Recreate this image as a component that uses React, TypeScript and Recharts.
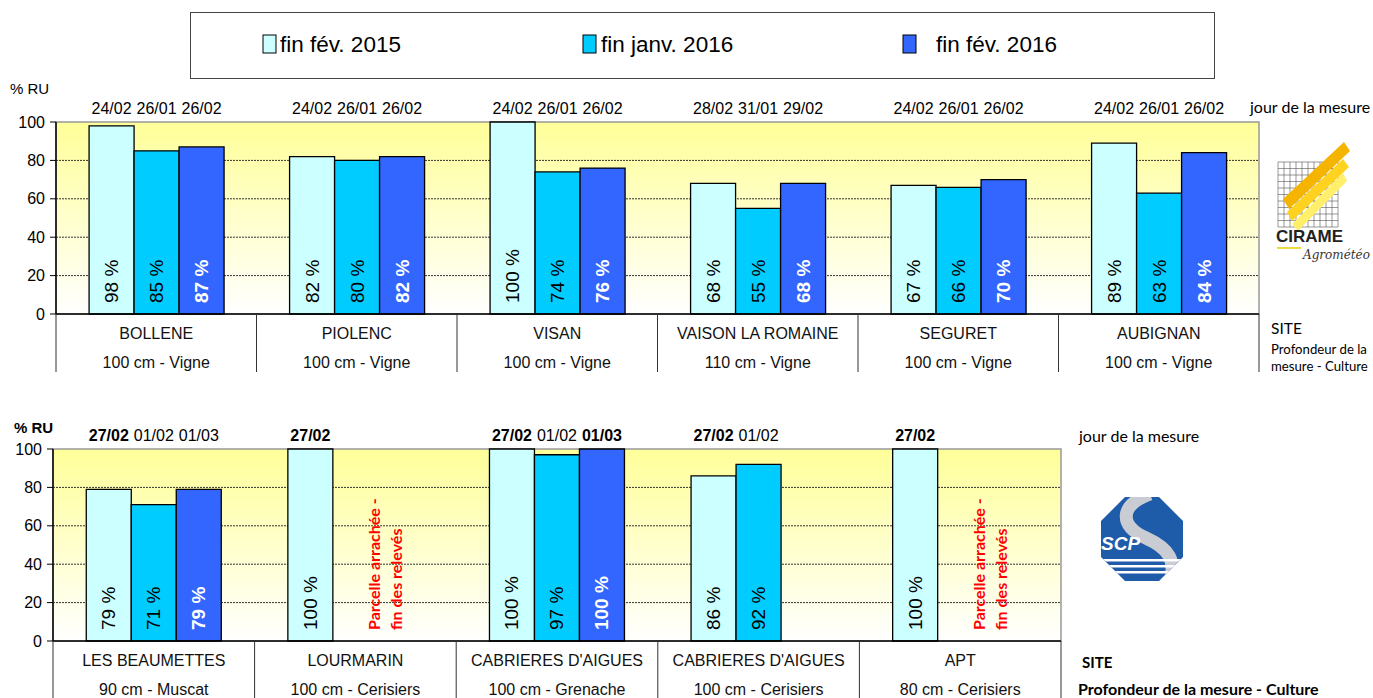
import React from 'react'
import {
  BarChart,
  Bar,
  XAxis,
  YAxis,
  CartesianGrid,
  LabelList,
  ReferenceArea,
} from 'recharts'

const seriesNames = ['fin fév. 2015', 'fin janv. 2016', 'fin fév. 2016']
const seriesColors = ['#CCFFFF', '#00CCFF', '#3366FF']
const yTicks = [0, 20, 40, 60, 80, 100]

// upper panel - CIRAME sites
const sitesTop = ['BOLLENE', 'PIOLENC', 'VISAN', 'VAISON LA ROMAINE', 'SEGURET', 'AUBIGNAN']
const depthsTop = ['100 cm - Vigne', '100 cm - Vigne', '100 cm - Vigne', '110 cm - Vigne', '100 cm - Vigne', '100 cm - Vigne']
const feb2015Top = [98, 82, 100, 68, 67, 89]
const jan2016Top = [85, 80, 74, 55, 66, 63]
const feb2016Top = [87, 82, 76, 68, 70, 84]
const datesFeb2015Top = ['24/02', '24/02', '24/02', '28/02', '24/02', '24/02']
const datesJan2016Top = ['26/01', '26/01', '26/01', '31/01', '26/01', '26/01']
const datesFeb2016Top = ['26/02', '26/02', '26/02', '29/02', '26/02', '26/02']
const boldTop = [false, false, false, false, false, false]

// lower panel - SCP sites
const sitesBottom = ['LES BEAUMETTES', 'LOURMARIN', "CABRIERES D'AIGUES", "CABRIERES D'AIGUES", 'APT']
const depthsBottom = ['90 cm - Muscat', '100 cm - Cerisiers', '100 cm - Grenache', '100 cm - Cerisiers', '80 cm - Cerisiers']
const feb2015Bottom = [79, 100, 100, 86, 100]
const jan2016Bottom = [71, null, 97, 92, null]
const feb2016Bottom = [79, null, 100, null, null]
const datesFeb2015Bottom = ['27/02', '27/02', '27/02', '27/02', '27/02']
const datesJan2016Bottom = ['01/02', null, '01/02', '01/02', null]
const datesFeb2016Bottom = ['01/03', null, '01/03', null, null]
const boldFeb2015Bottom = [true, true, true, true, true]
const boldJan2016Bottom = [false, false, false, false, false]
const boldFeb2016Bottom = [false, false, true, false, false]
const noteBottom = [false, true, false, false, true]
const noteText = ['Parcelle arrachée -', 'fin des relevés']

const ARIAL = '"Liberation Sans", Arial, sans-serif'
const CALIBRI = 'Lato, "Open Sans", sans-serif'
const Y_AXIS_W = 46

type PanelProps = {
  id: string
  sites: string[]
  depths: string[]
  values: (number | null)[][]
  dates: (string | null)[][]
  bold: boolean[][]
  notes?: boolean[]
  top: number
  width: number
  height: number
  margin: { top: number; right: number; bottom: number; left: number }
  axisHeight: number
}

function Panel(props: PanelProps) {
  const { id, sites, depths, values, dates, bold, notes, top, width, height, margin, axisHeight } = props
  const data = sites.map((s, i) => ({
    i,
    v0: values[0][i],
    v1: values[1][i],
    v2: values[2][i],
    d0: dates[0][i],
    d1: dates[1][i],
    d2: dates[2][i],
  }))
  const plotTop = margin.top
  const plotBottom = height - margin.bottom - axisHeight
  const plotLeft = margin.left + Y_AXIS_W
  const plotW = width - plotLeft - margin.right
  const band = plotW / sites.length

  const catIndex = (x: number) => Math.max(0, Math.min(sites.length - 1, Math.floor((x - plotLeft) / band)))

  const valueLabel = (k: number) => (p: any) => {
    if (p.value == null) return null
    const vb = p.viewBox || p
    const cx = Number(vb.x) + Number(vb.width) / 2
    const y = plotBottom - 11
    return (
      <text
        x={cx}
        y={y}
        transform={`rotate(-90 ${cx} ${y})`}
        textAnchor='start'
        dominantBaseline='central'
        fontSize={19}
        fontFamily={ARIAL}
        fontWeight={k === 2 ? 'bold' : 'normal'}
        fill={k === 2 ? '#fff' : '#000'}
      >
        {p.value + ' %'}
      </text>
    )
  }

  const dateLabel = (k: number) => (p: any) => {
    if (p.value == null) return null
    const vb = p.viewBox || p
    const cx = Number(vb.x) + Number(vb.width) / 2
    const isBold = bold[k][catIndex(Number(vb.x) + 1)]
    return (
      <text
        x={cx}
        y={plotTop - 14}
        textAnchor='middle'
        dominantBaseline='central'
        fontSize={16}
        fontFamily={ARIAL}
        fontWeight={isBold ? 'bold' : 'normal'}
        fill='#000'
      >
        {p.value}
      </text>
    )
  }

  const SiteTick = (p: any) => {
    const i = Number(p.payload.value)
    const cx = Number(p.x)
    const left = cx - band / 2
    const lineEnd = plotBottom + 58
    return (
      <g>
        <line x1={left} y1={plotBottom} x2={left} y2={lineEnd} stroke='#333' />
        {i === sites.length - 1 && (
          <line x1={left + band} y1={plotBottom} x2={left + band} y2={lineEnd} stroke='#333' />
        )}
        <text x={cx} y={plotBottom + 19} textAnchor='middle' dominantBaseline='central' fontSize={16} fontFamily={ARIAL} fill='#111'>
          {sites[i]}
        </text>
        <text x={cx} y={plotBottom + 48} textAnchor='middle' dominantBaseline='central' fontSize={16} fontFamily={ARIAL} fill='#111'>
          {depths[i]}
        </text>
        {notes && notes[i] &&
          noteText.map((t, j) => {
            const nx = cx + 18 + j * 22
            const ny = plotBottom - 11
            return (
              <text
                key={j}
                x={nx}
                y={ny}
                transform={`rotate(-90 ${nx} ${ny})`}
                textAnchor='start'
                dominantBaseline='central'
                fontSize={16}
                fontWeight='bold'
                fontFamily={CALIBRI}
                fill='#FF0000'
              >
                {t}
              </text>
            )
          })}
      </g>
    )
  }

  return (
    <div style={{ position: 'absolute', left: 0, top }}>
      <BarChart
        width={width}
        height={height}
        data={data}
        margin={margin}
        barCategoryGap='16.5%'
        barGap={0}
      >
        <defs>
          <linearGradient id={`bg-${id}`} x1='0' y1='0' x2='0' y2='1'>
            <stop offset='0%' stopColor='#FFFF99' />
            <stop offset='100%' stopColor='#FFFFFF' />
          </linearGradient>
        </defs>
        <CartesianGrid
          vertical={false}
          horizontalValues={[20, 40, 60, 80]}
          stroke='#333'
          strokeDasharray='2 1'
          fill={`url(#bg-${id})`}
          fillOpacity={1}
        />
        <ReferenceArea y1={0} y2={100} fill='none' stroke='#999' strokeWidth={1.5} />
        <XAxis
          dataKey='i'
          type='category'
          interval={0}
          tickLine={false}
          axisLine={{ stroke: '#000', strokeWidth: 1.5 }}
          height={axisHeight}
          tick={(p: any) => <SiteTick {...p} />}
        />
        <YAxis
          width={Y_AXIS_W}
          domain={[0, 100]}
          ticks={yTicks}
          interval={0}
          tickSize={6}
          tickMargin={5}
          axisLine={{ stroke: '#000', strokeWidth: 1.5 }}
          tickLine={{ stroke: '#000' }}
          tick={{ fontSize: 16, fontFamily: ARIAL, fill: '#000' }}
        />
        {[0, 1, 2].map((k) => (
          <Bar
            key={k}
            dataKey={`v${k}`}
            name={seriesNames[k]}
            fill={seriesColors[k]}
            stroke='#000'
            strokeWidth={1.3}
            isAnimationActive={false}
          >
            <LabelList dataKey={`v${k}`} content={valueLabel(k)} />
            <LabelList dataKey={`d${k}`} content={dateLabel(k)} />
          </Bar>
        ))}
      </BarChart>
    </div>
  )
}

function CirameLogo() {
  const lines = []
  for (let i = 0; i <= 10; i++) {
    lines.push(<line key={'v' + i} x1={1278 + i * 6} y1={162} x2={1278 + i * 6} y2={227} stroke='#555' strokeWidth={0.6} />)
    lines.push(<line key={'h' + i} x1={1278} y1={162 + i * 6.5} x2={1338} y2={162 + i * 6.5} stroke='#555' strokeWidth={0.6} />)
  }
  return (
    <g>
      {lines}
      <polygon points='1283,199 1344,142 1350,151 1289,209' fill='#F4B400' />
      <polygon points='1287,212 1343,159 1349,167 1292,221' fill='#FFD21F' />
      <polygon points='1292,224 1343,173 1347,181 1298,231' fill='#FFEF6A' />
      <text x={1276} y={242} fontSize={17} fontWeight='bold' fontFamily={ARIAL} fill='#222'>CIRAME</text>
      <line x1={1277} y1={248} x2={1301} y2={248} stroke='#E6CF00' strokeWidth={1.5} />
      <text x={1303} y={259} fontSize={12} fontStyle='italic' fontFamily='"DejaVu Serif", serif' fill='#333'>Agrométéo</text>
    </g>
  )
}

function ScpLogo() {
  return (
    <g>
      <defs>
        <clipPath id='scp-clip'>
          <polygon points='1125,497 1159,497 1183,521 1183,557 1159,581 1125,581 1101,557 1101,521' />
        </clipPath>
      </defs>
      <g clipPath='url(#scp-clip)'>
        <rect x={1100} y={496} width={84} height={86} fill='#1E5BA9' />
        <path d='M1150,494 C1118,506 1120,526 1146,538 C1170,549 1176,560 1170,584' stroke='#C9CCD2' strokeWidth={13} fill='none' />
        <rect x={1100} y={559} width={84} height={2.5} fill='#fff' />
        <rect x={1100} y={565} width={84} height={2.5} fill='#fff' />
        <rect x={1100} y={571} width={84} height={2.5} fill='#fff' />
      </g>
      <text x={1101} y={550} fontSize={19} fontWeight='bold' fontStyle='italic' fontFamily={ARIAL} fill='#fff'>SCP</text>
    </g>
  )
}

export default function App() {
  const squareX = [263, 583, 903]
  const textX = [280, 601, 936]
  return (
    <div style={{ position: 'absolute', left: 0, top: 0, width: 1373, height: 698, background: '#fff' }}>
      <Panel
        id='top'
        sites={sitesTop}
        depths={depthsTop}
        values={[feb2015Top, jan2016Top, feb2016Top]}
        dates={[datesFeb2015Top, datesJan2016Top, datesFeb2016Top]}
        bold={[boldTop, boldTop, boldTop]}
        top={0}
        width={1373}
        height={380}
        margin={{ top: 122, right: 114, bottom: 6, left: 10 }}
        axisHeight={60}
      />
      <Panel
        id='bottom'
        sites={sitesBottom}
        depths={depthsBottom}
        values={[feb2015Bottom, jan2016Bottom, feb2016Bottom]}
        dates={[datesFeb2015Bottom, datesJan2016Bottom, datesFeb2016Bottom]}
        bold={[boldFeb2015Bottom, boldJan2016Bottom, boldFeb2016Bottom]}
        notes={noteBottom}
        top={380}
        width={1373}
        height={318}
        margin={{ top: 69, right: 312, bottom: 0, left: 7 }}
        axisHeight={57}
      />
      <svg
        width={1373}
        height={698}
        style={{ position: 'absolute', left: 0, top: 0, pointerEvents: 'none' }}
      >
        {/* legend */}
        <rect x={190.5} y={12.5} width={1024} height={66} fill='#fff' stroke='#444' />
        {seriesNames.map((n, k) => (
          <g key={n}>
            <rect x={squareX[k]} y={35} width={13} height={18} fill={seriesColors[k]} stroke='#000' />
            <text x={textX[k]} y={44} dominantBaseline='central' fontSize={22.5} fontFamily={ARIAL} fill='#000'>
              {n}
            </text>
          </g>
        ))}

        {/* upper panel annotations */}
        <text x={10} y={88} dominantBaseline='central' fontSize={15} fontFamily={ARIAL}>% RU</text>
        <text x={1250} y={106} dominantBaseline='central' fontSize={16} fontFamily={CALIBRI}>jour de la mesure</text>
        <text x={1271} y={328} dominantBaseline='central' fontSize={15.5} fontFamily={CALIBRI}>SITE</text>
        <text x={1271} y={349} dominantBaseline='central' fontSize={13.2} fontFamily={CALIBRI}>Profondeur de la</text>
        <text x={1271} y={366} dominantBaseline='central' fontSize={13.2} fontFamily={CALIBRI}>mesure - Culture</text>
        <CirameLogo />

        {/* lower panel annotations */}
        <text x={14} y={427} dominantBaseline='central' fontSize={15} fontWeight='bold' fontFamily={ARIAL}>% RU</text>
        <text x={1079} y={435} dominantBaseline='central' fontSize={16} fontFamily={CALIBRI}>jour de la mesure</text>
        <text x={1082} y={662} dominantBaseline='central' fontSize={15} fontWeight='bold' fontFamily={CALIBRI}>SITE</text>
        <text x={1078} y={688} dominantBaseline='central' fontSize={16} fontWeight='bold' fontFamily={CALIBRI}>
          Profondeur de la mesure - Culture
        </text>
        <ScpLogo />
      </svg>
    </div>
  )
}
